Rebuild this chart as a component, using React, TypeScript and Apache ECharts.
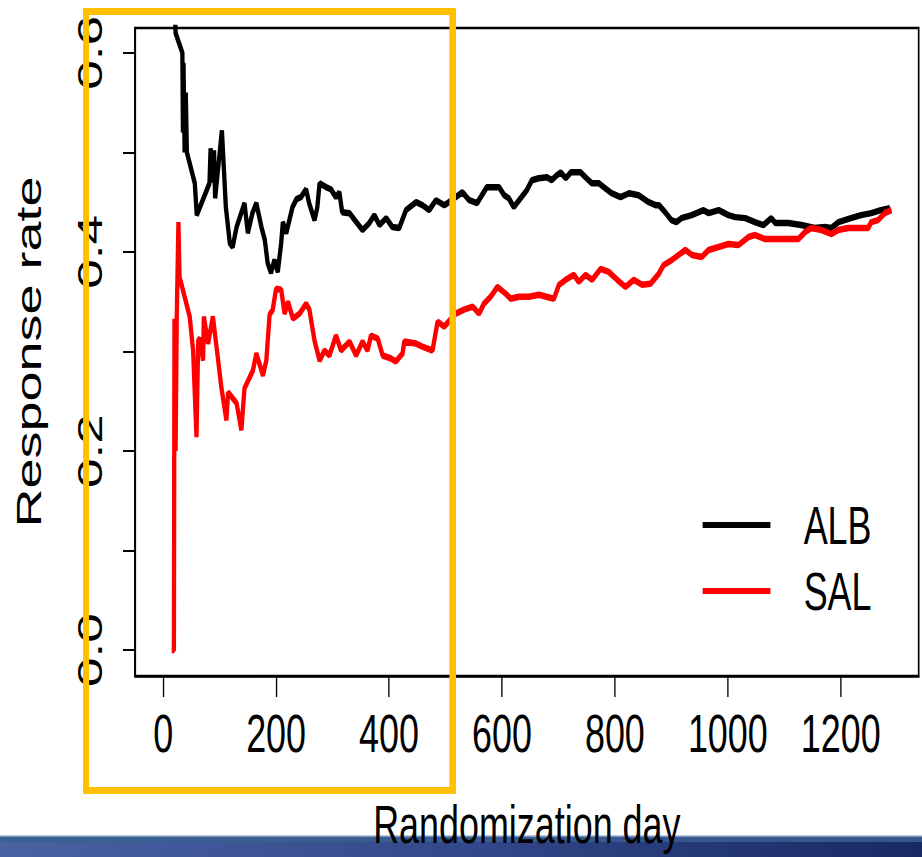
import React, { useEffect, useRef } from "react";
import * as echarts from "echarts";

// ---- data ----
const albDay = [19, 22, 34, 35, 36, 38, 40, 42, 56, 59.5, 82, 84, 88, 90, 92, 104, 111, 118, 123, 130, 144, 150, 158, 165, 174, 180, 185, 191, 197, 203, 209, 212, 218, 229, 236, 244, 253, 259, 268, 273, 277, 289, 297, 306, 312, 317, 330, 342, 353, 365, 374, 383, 395, 406, 418, 430, 448, 459, 471, 483, 498, 506, 530, 542, 556, 573, 595, 604, 612, 621, 633, 644, 653, 665, 680, 688, 697, 704, 713, 722, 739, 748, 759, 772, 783, 794, 810, 825, 842, 860, 872, 878, 889, 900, 909, 918, 936, 957, 966, 984, 1001, 1013, 1031, 1048, 1063, 1077, 1084, 1107, 1130, 1154, 1172, 1183, 1196, 1218, 1236, 1254, 1271, 1287];
const albRate = [0.667, 0.62, 0.6, 0.52, 0.59, 0.5, 0.56, 0.5, 0.469, 0.437, 0.469, 0.504, 0.47, 0.502, 0.454, 0.522, 0.445, 0.409, 0.405, 0.425, 0.449, 0.419, 0.439, 0.449, 0.425, 0.412, 0.389, 0.379, 0.392, 0.38, 0.409, 0.43, 0.419, 0.445, 0.453, 0.455, 0.463, 0.448, 0.432, 0.445, 0.469, 0.465, 0.463, 0.455, 0.46, 0.44, 0.439, 0.43, 0.422, 0.429, 0.437, 0.427, 0.434, 0.425, 0.424, 0.442, 0.45, 0.447, 0.442, 0.452, 0.447, 0.45, 0.46, 0.452, 0.449, 0.465, 0.465, 0.457, 0.454, 0.445, 0.454, 0.462, 0.472, 0.474, 0.475, 0.472, 0.477, 0.48, 0.474, 0.48, 0.48, 0.475, 0.469, 0.469, 0.464, 0.459, 0.455, 0.459, 0.457, 0.45, 0.447, 0.447, 0.44, 0.432, 0.43, 0.434, 0.437, 0.442, 0.439, 0.442, 0.437, 0.435, 0.434, 0.43, 0.427, 0.434, 0.429, 0.429, 0.427, 0.424, 0.425, 0.424, 0.43, 0.434, 0.437, 0.439, 0.442, 0.444];

const salDay = [15, 19, 20, 22, 24, 27, 29, 47, 53, 59, 62, 65, 70.7, 72, 79.5, 88, 97, 103, 112, 115, 130, 138.5, 144, 159, 165, 176.7, 182.7, 188.5, 194, 200, 209, 215, 221, 229.7, 241.5, 253, 259, 268, 277, 285.7, 294.5, 306, 315, 330, 341.7, 353, 362, 368, 380, 388.7, 403.5, 412, 424, 427, 447.7, 459, 477, 486, 497.7, 518, 533, 548, 559.5, 568, 580, 592, 606.7, 615.5, 630, 648, 665.5, 692, 701, 712.7, 727.4, 736, 748, 759.7, 774.6, 789, 804, 818.7, 833.4, 848, 863, 877.6, 886.4, 901, 913, 924.7, 936.4, 954, 966, 983.6, 1001, 1019, 1036.6, 1048.4, 1066, 1125, 1137, 1148, 1166, 1184, 1195.6, 1213, 1248.6, 1254, 1266, 1278, 1290];
const salRate = [0.0, 0.0, 0.333, 0.2, 0.333, 0.43, 0.375, 0.335, 0.301, 0.214, 0.311, 0.313, 0.291, 0.335, 0.308, 0.335, 0.293, 0.264, 0.231, 0.259, 0.248, 0.221, 0.263, 0.281, 0.298, 0.276, 0.291, 0.337, 0.342, 0.363, 0.362, 0.338, 0.35, 0.333, 0.338, 0.348, 0.342, 0.311, 0.291, 0.301, 0.296, 0.316, 0.301, 0.31, 0.296, 0.31, 0.301, 0.316, 0.313, 0.296, 0.293, 0.29, 0.298, 0.31, 0.308, 0.305, 0.301, 0.33, 0.325, 0.338, 0.342, 0.345, 0.338, 0.348, 0.355, 0.365, 0.358, 0.353, 0.355, 0.355, 0.357, 0.353, 0.367, 0.372, 0.377, 0.37, 0.377, 0.372, 0.383, 0.38, 0.372, 0.365, 0.372, 0.367, 0.368, 0.378, 0.387, 0.392, 0.397, 0.402, 0.397, 0.395, 0.402, 0.405, 0.408, 0.407, 0.415, 0.417, 0.413, 0.413, 0.42, 0.424, 0.422, 0.418, 0.422, 0.424, 0.424, 0.43, 0.432, 0.439, 0.442];

const seriesNames = ["ALB", "SAL"];
const xTicks = [0, 200, 400, 600, 800, 1000, 1200];
const yTicks = [0, 0.1, 0.2, 0.3, 0.4, 0.5, 0.6];
const yLabels = [0, 0.2, 0.4, 0.6];
const xTitle = "Randomization day";
const yTitle = "Response rate";

// The reference is horizontally squashed; the chart is drawn wide and scaled.
const SX = 922 / 1387;
const W = 1387;
const H = 857;
const FONT = "'Liberation Sans', Arial, sans-serif";

export default function App() {
  const ref = useRef<HTMLDivElement>(null);
  useEffect(() => {
    document.body.style.margin = "0";
    document.body.style.overflow = "hidden";
    const chart = echarts.init(ref.current!, null, { renderer: "svg", width: W, height: H });
    const alb = albDay.map((d, i) => [d, albRate[i]]);
    const sal = salDay.map((d, i) => [d, salRate[i]]);
    const yellow = "#FFC000";
    chart.setOption({
      animation: false,
      backgroundColor: "#ffffff",
      grid: {
        left: 203,
        top: 28,
        width: 1179,
        height: 648,
        containLabel: false,
        outerBoundsMode: "none",
        show: true,
        borderColor: "#000",
        borderWidth: 2.5,
        backgroundColor: "transparent",
      },
      xAxis: {
        type: "value",
        min: -50,
        max: 1338,
        axisLine: { show: true, onZero: false, lineStyle: { color: "#000", width: 2.5 } },
        splitLine: { show: false },
        axisTick: {
          show: true,
          inside: false,
          customValues: xTicks,
          length: 21,
          lineStyle: { color: "#000", width: 2 },
        },
        axisLabel: {
          customValues: xTicks,
          color: "#000",
          fontSize: 54,
          fontFamily: FONT,
          lineHeight: 54,
          margin: 30,
          formatter: (v: number) => String(v),
        },
        name: xTitle,
        nameLocation: "middle",
        nameGap: 121,
        nameTextStyle: { color: "#000", fontSize: 54, fontFamily: FONT, lineHeight: 54 },
      },
      yAxis: {
        type: "value",
        min: -0.026,
        max: 0.625,
        axisLine: { show: true, onZero: false, lineStyle: { color: "#000", width: 2.5 } },
        splitLine: { show: false },
        axisTick: {
          show: true,
          inside: false,
          customValues: yTicks,
          length: 18,
          lineStyle: { color: "#000", width: 2 },
        },
        axisLabel: {
          customValues: yLabels,
          rotate: 90,
          color: "#000",
          fontSize: 53,
          fontFamily: FONT,
          lineHeight: 53,
          margin: 42,
          formatter: (v: number) => v.toFixed(1),
        },
        name: yTitle,
        nameLocation: "middle",
        nameRotate: 90,
        nameGap: 133,
        nameTextStyle: { color: "#000", fontSize: 54, fontFamily: FONT, lineHeight: 54 },
      },
      legend: {
        data: seriesNames,
        orient: "vertical",
        left: 1052,
        top: 493,
        itemWidth: 102,
        itemHeight: 6,
        itemGap: 12,
        icon: "rect",
        textStyle: {
          color: "#000",
          fontSize: 54,
          fontFamily: FONT,
          lineHeight: 54,
          padding: [0, 0, 0, 45],
        },
      },
      series: [
        {
          name: seriesNames[0],
          type: "line",
          data: alb,
          showSymbol: false,
          clip: true,
          color: "#000000",
          lineStyle: { color: "#000000", width: 6.5 },
        },
        {
          name: seriesNames[1],
          type: "line",
          data: sal,
          showSymbol: false,
          clip: true,
          color: "#ff0000",
          lineStyle: { color: "#ff0000", width: 6.5 },
        },
      ],
      graphic: [
        // slide footer bar
        {
          type: "rect",
          z: -5,
          shape: { x: 0, y: 842, width: W, height: 15 },
          style: {
            fill: new echarts.graphic.LinearGradient(0, 0, 1, 0, [
              { offset: 0, color: "#4862a2" },
              { offset: 0.5, color: "#33488a" },
              { offset: 1, color: "#182a64" },
            ]),
          },
        },
        {
          type: "rect",
          z: -5,
          shape: { x: 0, y: 837, width: W, height: 5 },
          style: {
            fill: new echarts.graphic.LinearGradient(0, 0, 1, 0, [
              { offset: 0, color: "#3b6094" },
              { offset: 1, color: "#35578a" },
            ]),
          },
        },
        {
          type: "rect",
          z: -5,
          shape: { x: 0, y: 835.5, width: W, height: 1.5 },
          style: { fill: "#7b98c0" },
        },
        // highlight frame
        { type: "rect", z: 100, shape: { x: 125, y: 8, width: 9, height: 786, r: 2 }, style: { fill: yellow } },
        { type: "rect", z: 100, shape: { x: 676, y: 8, width: 10, height: 786, r: 2 }, style: { fill: yellow } },
        { type: "rect", z: 100, shape: { x: 125, y: 8, width: 561, height: 7, r: 2 }, style: { fill: yellow } },
        { type: "rect", z: 100, shape: { x: 125, y: 787, width: 561, height: 7, r: 2 }, style: { fill: yellow } },
      ],
    });
    return () => chart.dispose();
  }, []);
  return (
    <div
      style={{
        position: "fixed",
        left: 0,
        top: 0,
        width: 922,
        height: H,
        overflow: "hidden",
        background: "#fff",
      }}
    >
      <div
        ref={ref}
        style={{
          width: W,
          height: H,
          transform: `scaleX(${SX})`,
          transformOrigin: "0 0",
        }}
      />
    </div>
  );
}
